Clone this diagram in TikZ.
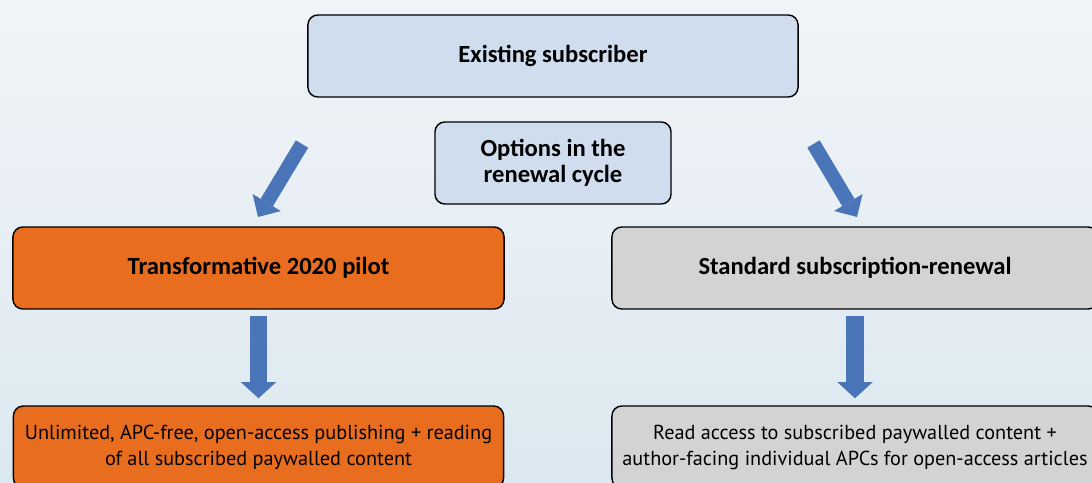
\documentclass[tikz,border=0pt]{standalone}
\usepackage{fontspec}
\setmainfont{Carlito}
\newfontfamily\ptsans{PT Sans}
\usetikzlibrary{arrows.meta}

\definecolor{bgtop}{HTML}{F1F4F8}
\definecolor{bgbot}{HTML}{DCE8F0}
\definecolor{boxblue}{HTML}{CFDDEE}
\definecolor{boxorange}{HTML}{E86D1F}
\definecolor{boxgrey}{HTML}{D3D3D3}
\definecolor{arrowblue}{HTML}{4A76B9}

\begin{document}
\begin{tikzpicture}[x=0.025cm,y=-0.025cm,
  box/.style={draw=black, line width=1pt, rounded corners=7pt, align=center, inner sep=0pt},
  head/.style={box, font=\fontsize{17.5}{18.3}\selectfont\bfseries},
  foot/.style={box, minimum width=490*0.7113pt, minimum height=82*0.7113pt,
    font=\ptsans\fontsize{14.4}{18.5}\selectfont},
  fat/.style={draw=arrowblue, line width=12.6pt,
    -{Triangle[length=11.4pt,width=25pt,line width=0pt]}},
  slant/.style={draw=arrowblue, line width=10.2pt,
    -{Triangle[length=12pt,width=23.5pt,line width=0pt]}}]
\useasboundingbox (0,0) rectangle (1092,482);
\shade[top color=bgtop, bottom color=bgbot] (0,0) rectangle (1092,482);

\draw (553,56)   node (11) [head, fill=boxblue, minimum width=490*0.7113pt, minimum height=82*0.7113pt] {Existing subscriber};
\draw (553,163)  node (21) [head, fill=boxblue, minimum width=236*0.7113pt, minimum height=82*0.7113pt] {Options in the\\renewal cycle};

\draw (258.5,268) node (31) [head, fill=boxorange, minimum width=491*0.7113pt, minimum height=82*0.7113pt] {Transformative 2020 pilot};
\draw (855,268)   node (33) [head, fill=boxgrey, minimum width=486*0.7113pt, minimum height=82*0.7113pt] {Standard subscription-renewal};

\draw (258.5,447) node (41) [foot, fill=boxorange] {Unlimited, APC-free, open-access publishing + reading\\of all subscribed paywalled content};
\draw (855,447)   node (43) [foot, fill=boxgrey, minimum width=486*0.7113pt] {Read access to subscribed paywalled content +\\author-facing individual APCs for open-access articles};

% slanted arrows below the top box
\coordinate (a1) at (302,144);
\coordinate (b1) at (258,217);
\draw[slant] (a1) -- (b1);
\coordinate (a3) at (813.5,144);
\coordinate (b3) at (857,217);
\draw[slant] (a3) -- (b3);

\draw[fat, shorten <=4.3pt, shorten >=5pt] (31) -- (41);
\draw[fat, shorten <=4.3pt, shorten >=5pt] (33) -- (43);
\end{tikzpicture}
\end{document}
